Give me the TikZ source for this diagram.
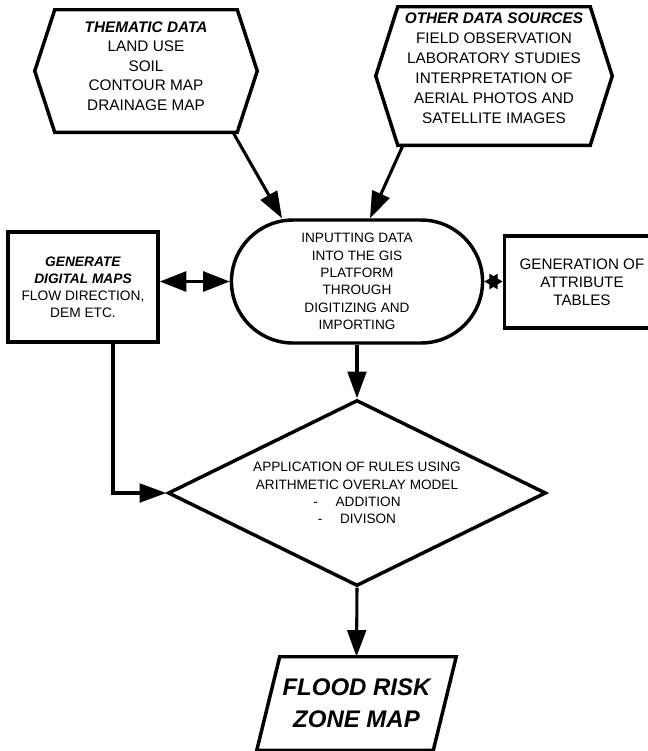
\documentclass[tikz,border=0pt]{standalone}
\usepackage{fontspec}
\setmainfont{Liberation Sans}
\usetikzlibrary{arrows.meta,calc,shapes.geometric,shapes.misc}
\tikzset{
    outline/.style = {draw, line width=2.6pt, line join=miter},
    frame/.style = {rectangle, inner sep=0pt},
    hextext/.style = {align=center, font=\fontsize{11.5}{14.6}\selectfont},
    block/.style = {outline, rectangle, align=center, inner sep=2pt},
    terminal/.style = {outline, rounded rectangle, align=center,
        minimum width=195pt, minimum height=92.25pt,
        font=\fontsize{10.2}{13}\selectfont},
    decision/.style = {outline, diamond, aspect=2.03, inner sep=0pt, align=center,
        minimum width=283.5pt, minimum height=139.5pt,
        font=\fontsize{10.2}{13}\selectfont},
    arrow/.style = {draw, line width=2.3pt, -{Triangle[length=20pt,width=14pt]}},
    twoway/.style = {draw, line width=2.3pt, {Triangle[length=20pt,width=15pt]}-{Triangle[length=20pt,width=15pt]}},
    bowtie/.style = {draw, line width=2.3pt, {Triangle[length=10pt,width=11pt]}-{Triangle[length=10pt,width=11pt]}}
}

\begin{document}
\begin{tikzpicture}[x=0.75pt,y=-0.75pt]
    \useasboundingbox (0,0) rectangle (648,751);

    % input data (hexagons)
    \node[frame, minimum width=136.5pt, minimum height=91.5pt] (thematic) at (146,71) {};
    \draw[outline] (thematic.north west) -- (thematic.north east) -- ([xshift=15pt]thematic.east)
        -- (thematic.south east) -- (thematic.south west) -- ([xshift=-15pt]thematic.west) -- cycle;
    \node[hextext] (thematictext) at (146,66)
        {\textbf{\textit{THEMATIC DATA}}\\LAND USE\\SOIL\\CONTOUR MAP\\DRAINAGE MAP};

    \node[frame, minimum width=144pt, minimum height=103.5pt] (other) at (494,76) {};
    \draw[outline] (other.north west) -- (other.north east) -- ([xshift=16.5pt]other.east)
        -- (other.south east) -- (other.south west) -- ([xshift=-16.5pt]other.west) -- cycle;
    \node[hextext, font=\fontsize{11.5}{15}\selectfont] (othertext) at (494,68)
        {\textbf{\textit{OTHER DATA SOURCES}}\\FIELD OBSERVATION\\LABORATORY STUDIES\\INTERPRETATION OF\\AERIAL PHOTOS AND\\SATELLITE IMAGES};

    % processing
    \node[terminal] (input) at (357,281.5)
        {INPUTTING DATA\\INTO THE GIS\\PLATFORM\\THROUGH\\DIGITIZING AND\\IMPORTING};
    \node[block, minimum width=112.5pt, minimum height=82.5pt,
        font=\fontsize{10.3}{12.8}\selectfont] (digital) at (83,287)
        {\textbf{\textit{GENERATE}}\\\textbf{\textit{DIGITAL MAPS}}\\FLOW DIRECTION,\\DEM ETC.};
    \node[block, minimum width=116.25pt, minimum height=69pt,
        font=\fontsize{11.4}{13.5}\selectfont] (attrib) at (582,282)
        {GENERATION OF\\ATTRIBUTE\\TABLES};
    \node[decision] (overlay) at (357,493)
        {APPLICATION OF RULES USING\\ARITHMETIC OVERLAY MODEL\\-\hspace{1.3em}ADDITION\\-\hspace{1.3em}DIVISON};

    % output (parallelogram)
    \node[frame, minimum width=132pt, minimum height=69.75pt,
        font=\fontsize{18}{24}\selectfont\bfseries\itshape, align=center] (flood) at (356.5,703.5)
        {FLOOD RISK\\ZONE MAP};
    \draw[outline] ([xshift=8.6pt]flood.north west) -- ([xshift=8.6pt]flood.north east)
        -- ([xshift=-8.6pt]flood.south east) -- ([xshift=-8.6pt]flood.south west) -- cycle;

    % connectors
    \draw[arrow] ([xshift=65.25pt]thematic.south) -- ([xshift=-56.25pt]input.north);
    \draw[arrow] ([xshift=-68.25pt]other.south) -- ([xshift=9.75pt]input.north);
    \draw[twoway] (input.west -| digital.east) -- (input.west);
    \draw[bowtie] (input.east) -- (input.east -| attrib.west);
    \draw[arrow] (input.south) -- (overlay.north);
    \draw[arrow] ([xshift=22.5pt]digital.south) |- (overlay.west);
    \draw[arrow] (overlay.south) -- (flood.north);
\end{tikzpicture}
\end{document}
